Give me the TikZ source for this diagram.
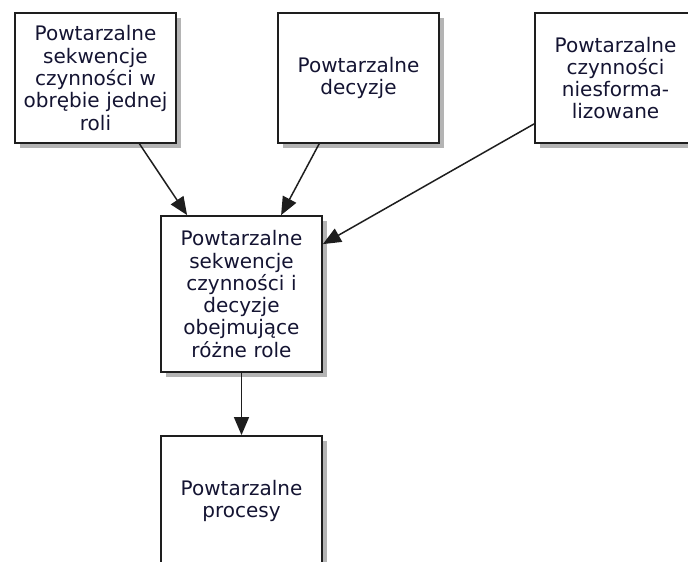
\documentclass[tikz,border=0pt]{standalone}
\usepackage{fontspec}
\setmainfont{DejaVu Sans}
\usetikzlibrary{arrows.meta,shadows,calc}
\definecolor{txt}{RGB}{20,20,50}
\definecolor{edge}{RGB}{30,30,30}
\definecolor{shade}{RGB}{180,180,180}
\begin{document}
\begin{tikzpicture}[x=1pt,y=-1pt,
  box/.style={draw=edge,line width=1.8pt,fill=white,minimum width=161pt,
    text width=158pt,align=center,inner sep=0pt,text=txt,
    font=\fontsize{20}{22.3}\selectfont,
    drop shadow={shadow xshift=5pt,shadow yshift=-5pt,fill=shade,opacity=1}},
  arr/.style={draw=edge,line width=1.5pt,-{Triangle[length=18pt,width=15pt]}}]
\useasboundingbox (0,0) rectangle (688,562);
\clip (0,0) rectangle (688,562);
\node[box,minimum height=130pt] (b1) at (95.5,78) {Powtarzalne\\sekwencje\\czynności w\\obrębie jednej\\roli};
\node[box,minimum height=130pt] (b2) at (358.5,78) {Powtarzalne\\decyzje};
\node[box,minimum height=130pt] (b3) at (615.5,78) {Powtarzalne\\czynności\\niesforma-\\lizowane};
\node[box,minimum height=156pt] (b4) at (241.5,294) {Powtarzalne\\sekwencje\\czynności i\\decyzje\\obejmujące\\różne role};
\node[box,minimum height=130pt] (b5) at (241.5,501) {Powtarzalne\\procesy};
\draw[arr] ([xshift=44pt]b1.south) -- ([xshift=27pt]b4.north west);
\draw[arr] ([xshift=42pt]b2.south west) -- ([xshift=121pt]b4.north west);
\draw[arr] ([yshift=20pt]b3.south west) -- ([yshift=-29pt]b4.north east);
\draw[arr] (b4.south) -- (b5.north);
\end{tikzpicture}
\end{document}
